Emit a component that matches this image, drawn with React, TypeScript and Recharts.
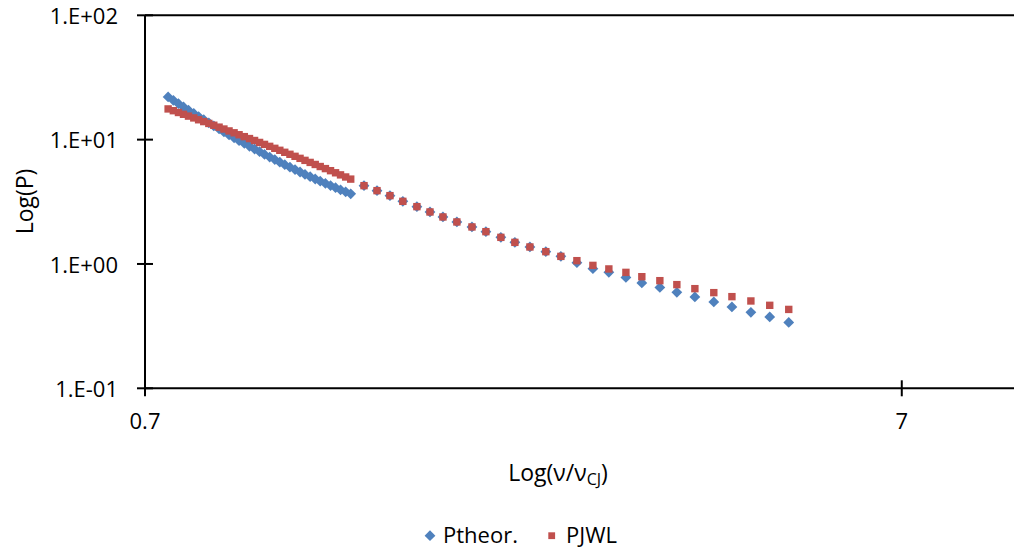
import { ScatterChart, Scatter, XAxis, YAxis, ReferenceLine, Legend } from 'recharts';

// v/vCJ sample points and pressures, dense branch then coarse branch
const denseX = [
  0.751, 0.763, 0.775, 0.787, 0.799, 0.812, 0.824, 0.837, 0.85, 0.863, 0.877, 0.89, 0.904,
  0.918, 0.932, 0.947, 0.962, 0.977, 0.992, 1.007, 1.023, 1.039, 1.055, 1.071, 1.088, 1.105,
  1.122, 1.139, 1.157, 1.175, 1.193, 1.212, 1.231, 1.25, 1.269, 1.289, 1.309,
];
const densePtheor = [
  22.06, 20.72, 19.48, 18.32, 17.25, 16.25, 15.32, 14.45, 13.65, 12.9, 12.19, 11.54, 10.92,
  10.35, 9.817, 9.316, 8.846, 8.407, 7.996, 7.609, 7.246, 6.908, 6.588, 6.288, 6.006, 5.741,
  5.49, 5.255, 5.033, 4.825, 4.63, 4.444, 4.27, 4.105, 3.949, 3.802, 3.663,
];
const densePJWL = [
  17.66, 17.09, 16.53, 15.99, 15.46, 14.95, 14.45, 13.97, 13.5, 13.05, 12.6, 12.17, 11.75,
  11.35, 10.95, 10.57, 10.2, 9.842, 9.494, 9.158, 8.83, 8.513, 8.208, 7.91, 7.621, 7.341,
  7.071, 6.811, 6.558, 6.314, 6.077, 5.848, 5.627, 5.413, 5.207, 5.008, 4.814,
];

const sparseX = [
  1.363, 1.418, 1.475, 1.534, 1.601, 1.666, 1.733, 1.808, 1.893, 1.975, 2.067, 2.157, 2.258,
  2.37, 2.481, 2.605, 2.735, 2.871, 3.024, 3.174, 3.353, 3.531, 3.73, 3.951, 4.175, 4.423,
  4.684, 4.963,
];
const sparsePtheor = [
  4.265, 3.888, 3.544, 3.189, 2.891, 2.62, 2.388, 2.177, 1.985, 1.819, 1.637, 1.492, 1.37,
  1.256, 1.151, 1.024, 0.917, 0.856, 0.779, 0.704, 0.648, 0.591, 0.543, 0.495, 0.451, 0.408,
  0.375, 0.339,
];
const sparsePJWL = [
  4.265, 3.888, 3.544, 3.189, 2.891, 2.62, 2.388, 2.177, 1.985, 1.819, 1.637, 1.492, 1.37,
  1.256, 1.151, 1.063, 0.974, 0.912, 0.856, 0.79, 0.734, 0.682, 0.633, 0.588, 0.546, 0.504,
  0.465, 0.431,
];

const xTicks = [0.7, 7];
const yTicks = [0.1, 1, 10, 100];

const BLUE = '#4F81BD';
const RED = '#C0504D';
const FONT = '"Open Sans", sans-serif';

const W = 1011;
const H = 550;
const LEFT = 137;
const TOP = 15.3;
const BOTTOM = 388.3;

const toPoints = (xs: number[], ys: number[]) => xs.map((x, i) => ({ x, y: ys[i] }));

const ptheorData = [...toPoints(denseX, densePtheor), ...toPoints(sparseX, sparsePtheor)];
const pjwlData = [...toPoints(denseX, densePJWL), ...toPoints(sparseX, sparsePJWL)];

// 100 -> "1.E+02"
const sci = (v: number) => {
  const e = Math.round(Math.log10(v));
  const sign = e < 0 ? '-' : '+';
  return `1.E${sign}${String(Math.abs(e)).padStart(2, '0')}`;
};

const Diamond = (props: any) => {
  const { cx, cy } = props;
  const r = 5.4;
  return <path d={`M${cx},${cy - r}L${cx + r},${cy}L${cx},${cy + r}L${cx - r},${cy}Z`} fill={BLUE} />;
};

const Square = (props: any) => {
  const { cx, cy } = props;
  const s = 7.4;
  return <rect x={cx - s / 2} y={cy - s / 2} width={s} height={s} fill={RED} />;
};

const YTick = (props: any) => {
  const { y, payload } = props;
  return (
    <g>
      <line x1={LEFT - 8} x2={LEFT + 8} y1={y} y2={y} stroke="#000" strokeWidth={2} />
      <text x={LEFT - 27} y={y + 8.7} textAnchor="end" fontFamily={FONT} fontSize={22} fill="#000">
        {sci(payload.value)}
      </text>
    </g>
  );
};

const XTick = (props: any) => {
  const { x, payload } = props;
  return (
    <g>
      <line x1={x} x2={x} y1={BOTTOM - 8} y2={BOTTOM + 8} stroke="#000" strokeWidth={2} />
      <text x={x} y={428.7} textAnchor="middle" fontFamily={FONT} fontSize={22} fill="#000">
        {payload.value}
      </text>
    </g>
  );
};

const XTitle = () => (
  <text x={550} y={481} textAnchor="middle" fontFamily={FONT} fontSize={23} fill="#000">
    Log(ν/ν
    <tspan fontSize={16} dy={4}>
      CJ
    </tspan>
    <tspan dy={-4}>)</tspan>
  </text>
);

const YTitle = () => (
  <text
    transform="translate(25.3, 201.5) rotate(-90)"
    textAnchor="middle"
    fontFamily={FONT}
    fontSize={23}
    fill="#000"
  >
    Log(P)
  </text>
);

const LegendContent = () => (
  <svg width={W} height={40} style={{ display: 'block' }}>
    <path d="M422,22.3L427.4,27.7L422,33.1L416.6,27.7Z" fill={BLUE} />
    <text x={435} y={34.7} fontFamily={FONT} fontSize={22} fill="#000">
      Ptheor.
    </text>
    <rect x={540.3} y={24.3} width={6.8} height={6.8} fill={RED} />
    <text x={558} y={34.7} fontFamily={FONT} fontSize={22} fill="#000">
      PJWL
    </text>
  </svg>
);

export default function App() {
  return (
    <div style={{ position: 'fixed', top: 0, left: 8, width: 1006, height: H, overflow: 'hidden', background: '#fff' }}>
      <ScatterChart width={W} height={H} margin={{ top: TOP, right: 0, bottom: H - BOTTOM - 40, left: 0 }}>
        <XAxis
          type="number"
          dataKey="x"
          scale="log"
          domain={[0.7, 10]}
          allowDataOverflow
          ticks={xTicks}
          tick={<XTick />}
          tickLine={false}
          axisLine={{ stroke: '#000', strokeWidth: 2 }}
          height={40}
          label={<XTitle />}
        />
        <YAxis
          type="number"
          dataKey="y"
          scale="log"
          domain={[0.1, 100]}
          allowDataOverflow
          ticks={yTicks}
          tick={<YTick />}
          tickLine={false}
          axisLine={{ stroke: '#000', strokeWidth: 2 }}
          width={LEFT}
          label={<YTitle />}
        />
        <ReferenceLine y={100} stroke="#000" strokeWidth={2} />
        <Legend
          verticalAlign="middle"
          align="center"
          content={<LegendContent />}
          wrapperStyle={{ top: 508, left: 0, width: W, height: 40 }}
        />
        <Scatter name="Ptheor." data={ptheorData} shape={Diamond} isAnimationActive={false} />
        <Scatter name="PJWL" data={pjwlData} shape={Square} isAnimationActive={false} />
      </ScatterChart>
    </div>
  );
}
